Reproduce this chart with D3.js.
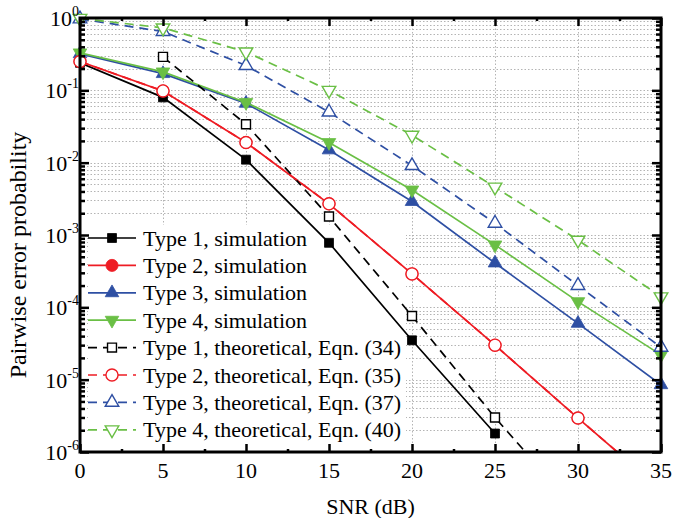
<!DOCTYPE html>
<html>
<head>
<meta charset="utf-8">
<script src="https://cdn.jsdelivr.net/npm/d3@7/dist/d3.min.js"></script>
<style>
  body { margin: 0; background: #fff; }
  svg { display: block; font-family: "Liberation Serif", "Times New Roman", serif; }
</style>
</head>
<body>
<svg id="chart"></svg>
<script>
// values
var snr = [0, 5, 10, 15, 20, 25, 30, 35];
var type1Sim = [0.24, 0.08, 0.011, 7.8e-4, 3.5e-5, 1.8e-6, null, null];
var type2Sim = [0.25, 0.098, 0.019, 2.7e-3, 2.9e-4, 3.0e-5, 2.95e-6, 3.0e-7];
var type3Sim = [0.32, 0.17, 0.066, 0.015, 2.9e-3, 4.1e-4, 6.0e-5, 8.5e-6];
var type4Sim = [0.33, 0.18, 0.068, 0.019, 4.2e-3, 7.3e-4, 1.2e-4, 2.2e-5];
var type1Th = [null, 0.29, 0.034, 1.8e-3, 7.6e-5, 3.0e-6, 1.5e-7, null];
var type2Th = [0.25, 0.098, 0.019, 2.7e-3, 2.9e-4, 3.0e-5, 2.95e-6, 3.0e-7];
var type3Th = [0.97, 0.65, 0.22, 0.050, 9.1e-3, 1.45e-3, 2.0e-4, 2.8e-5];
var type4Th = [0.99, 0.73, 0.34, 0.10, 0.024, 4.6e-3, 8.5e-4, 1.4e-4];

var xTicks = [0, 5, 10, 15, 20, 25, 30, 35];
var yExps = [0, -1, -2, -3, -4, -5, -6];

var width = 673, height = 518;
var plotL = 80, plotR = 661, plotT = 18, plotB = 452;

var black = "#000000", red = "#ee1c24", blue = "#2e4fa3", green = "#6abf45";

var svg = d3.select("#chart")
    .attr("width", width)
    .attr("height", height);

var x = d3.scaleLinear().domain([0, 35]).range([plotL, plotR]);
var y = d3.scaleLog().domain([1e-6, 1]).range([plotB, plotT]);

// grid
var minorY = [];
yExps.forEach(function(e) {
    if (e === 0) return;
    for (var k = 2; k <= 9; k++) minorY.push(k * Math.pow(10, e));
});
var majorY = yExps.map(function(e) { return Math.pow(10, e); });

var grid = svg.append("g").attr("class", "grid")
    .attr("stroke", "#b4b4b4")
    .attr("stroke-width", 1)
    .attr("stroke-dasharray", "1.5,2");

grid.selectAll(".gy").data(minorY.concat(majorY)).enter().append("line")
    .attr("x1", plotL).attr("x2", plotR)
    .attr("y1", function(d) { return Math.round(y(d)) + 0.5; })
    .attr("y2", function(d) { return Math.round(y(d)) + 0.5; });

grid.selectAll(".gx").data(xTicks).enter().append("line")
    .attr("x1", function(d) { return Math.round(x(d)) + 0.5; })
    .attr("x2", function(d) { return Math.round(x(d)) + 0.5; })
    .attr("y1", plotT).attr("y2", plotB);

// legend box hides the grid only, curves go on top of it
svg.append("rect")
    .attr("x", 88).attr("y", 225)
    .attr("width", 318).attr("height", 218)
    .attr("fill", "#fff");

// clip for the curves
svg.append("clipPath").attr("id", "plotClip")
    .append("rect")
    .attr("x", plotL).attr("y", plotT)
    .attr("width", plotR - plotL).attr("height", plotB - plotT);

// simulations first, theory curves (open markers) drawn over them
var series = [
    { vals: type1Sim, color: black, dash: false, marker: "square", filled: true },
    { vals: type2Sim, color: red, dash: false, marker: "circle", filled: true },
    { vals: type3Sim, color: blue, dash: false, marker: "up", filled: true },
    { vals: type4Sim, color: green, dash: false, marker: "down", filled: true },
    { vals: type1Th, color: black, dash: true, marker: "square", filled: false },
    { vals: type2Th, color: red, dash: true, marker: "circle", filled: false },
    { vals: type3Th, color: blue, dash: true, marker: "up", filled: false },
    { vals: type4Th, color: green, dash: true, marker: "down", filled: false }
];
var labels = [
    "Type 1, simulation",
    "Type 2, simulation",
    "Type 3, simulation",
    "Type 4, simulation",
    "Type 1, theoretical, Eqn. (34)",
    "Type 2, theoretical, Eqn. (35)",
    "Type 3, theoretical, Eqn. (37)",
    "Type 4, theoretical, Eqn. (40)"
];

var symbols = {
    square: d3.symbol().type(d3.symbolSquare).size(80),
    circle: d3.symbol().type(d3.symbolCircle).size(115),
    up: d3.symbol().type(d3.symbolTriangle).size(80),
    down: d3.symbol().type(d3.symbolTriangle).size(80)
};

function drawMarker(g, s, cx, cy) {
    g.append("path")
        .attr("d", symbols[s.marker]())
        .attr("transform", "translate(" + cx + "," + cy + ")" + (s.marker === "down" ? " rotate(180)" : ""))
        .attr("fill", s.filled ? s.color : "#fff")
        .attr("stroke", s.color)
        .attr("stroke-width", s.filled ? 0.8 : 1.4);
}

var line = d3.line()
    .defined(function(d) { return d[1] != null; })
    .x(function(d) { return x(d[0]); })
    .y(function(d) { return y(d[1]); });

var curves = svg.append("g");
series.forEach(function(s) {
    var pts = snr.map(function(v, i) { return [v, s.vals[i]]; });
    var g = curves.append("g");
    g.append("path")
        .datum(pts)
        .attr("clip-path", "url(#plotClip)")
        .attr("fill", "none")
        .attr("stroke", s.color)
        .attr("stroke-width", 1.7)
        .attr("stroke-dasharray", s.dash ? "9,6" : null)
        .attr("d", line);
    snr.forEach(function(v, i) {
        var val = s.vals[i];
        if (val == null || val < 1e-6 || val > 1) return;
        drawMarker(g, s, x(v), y(val));
    });
});

// legend
var legend = svg.append("g");
series.forEach(function(s, i) {
    var ly = 238 + i * 27.4;
    legend.append("line")
        .attr("x1", 88).attr("x2", 136)
        .attr("y1", ly).attr("y2", ly)
        .attr("stroke", s.color)
        .attr("stroke-width", 1.7)
        .attr("stroke-dasharray", s.dash ? "9,6" : null);
    drawMarker(legend, s, 112, ly);
    legend.append("text")
        .attr("x", 143).attr("y", ly + 7.5)
        .style("font-size", "22px")
        .text(labels[i]);
});

// axes frame and ticks
var axes = svg.append("g");

axes.append("g")
    .attr("transform", "translate(0," + plotB + ")")
    .call(d3.axisBottom(x).tickValues(xTicks).tickSize(-8).tickFormat(""));
axes.append("g")
    .attr("transform", "translate(0," + plotT + ")")
    .call(d3.axisTop(x).tickValues(xTicks).tickSize(-8).tickFormat(""));
var xMinor = d3.range(2.5, 35, 5);
axes.append("g")
    .attr("transform", "translate(0," + plotB + ")")
    .call(d3.axisBottom(x).tickValues(xMinor).tickSize(-3).tickFormat(""));
axes.append("g")
    .attr("transform", "translate(0," + plotT + ")")
    .call(d3.axisTop(x).tickValues(xMinor).tickSize(-3).tickFormat(""));

axes.append("g")
    .attr("transform", "translate(" + plotL + ",0)")
    .call(d3.axisLeft(y).tickValues(majorY).tickSize(-9).tickFormat(""));
axes.append("g")
    .attr("transform", "translate(" + plotL + ",0)")
    .call(d3.axisLeft(y).tickValues(minorY).tickSize(-5).tickFormat(""));
axes.append("g")
    .attr("transform", "translate(" + plotR + ",0)")
    .call(d3.axisRight(y).tickValues(majorY).tickSize(-9).tickFormat(""));
axes.append("g")
    .attr("transform", "translate(" + plotR + ",0)")
    .call(d3.axisRight(y).tickValues(minorY).tickSize(-5).tickFormat(""));

axes.selectAll(".domain").remove();
axes.selectAll(".tick line").attr("stroke", "#000").attr("stroke-width", 2.5);

axes.append("rect")
    .attr("x", plotL).attr("y", plotT)
    .attr("width", plotR - plotL).attr("height", plotB - plotT)
    .attr("fill", "none")
    .attr("stroke", "#000")
    .attr("stroke-width", 3);

// tick labels
svg.append("g").selectAll("text").data(xTicks).enter().append("text")
    .attr("x", function(d) { return x(d); })
    .attr("y", 478)
    .attr("text-anchor", "middle")
    .style("font-size", "22px")
    .text(function(d) { return d; });

var yLab = svg.append("g").selectAll("text").data(yExps).enter().append("text")
    .attr("x", 79)
    .attr("y", function(e) { return y(Math.pow(10, e)) + 8; })
    .attr("text-anchor", "end")
    .style("font-size", "22px");
yLab.append("tspan").text("10");
yLab.append("tspan")
    .attr("dy", -10)
    .style("font-size", "14px")
    .text(function(e) { return e; });

// axis titles
svg.append("text")
    .attr("x", (plotL + plotR) / 2)
    .attr("y", 514)
    .attr("text-anchor", "middle")
    .style("font-size", "22px")
    .text("SNR (dB)");

svg.append("text")
    .attr("transform", "translate(26,255) rotate(-90)")
    .attr("text-anchor", "middle")
    .style("font-size", "24px")
    .text("Pairwise error probability");
</script>
</body>
</html>
